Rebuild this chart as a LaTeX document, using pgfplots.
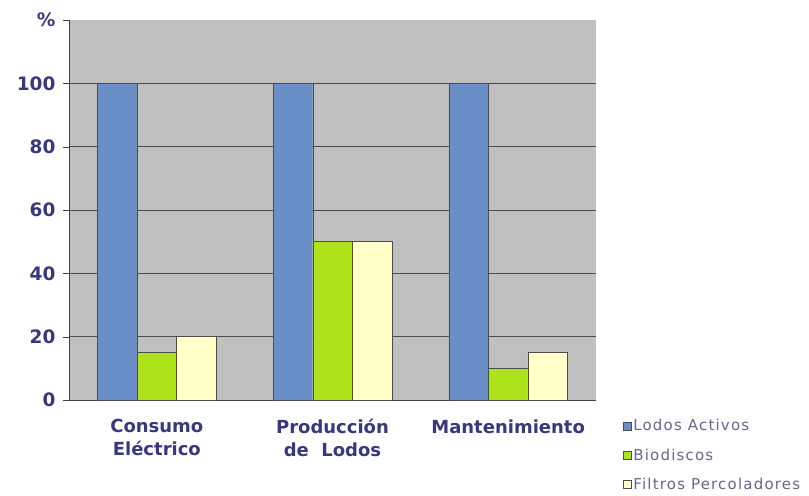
\documentclass[border=0pt]{standalone}
\usepackage{fontspec}
\setmainfont{DejaVu Sans}
\newfontfamily\legfont[LetterSpace=8]{DejaVu Sans}
\usepackage{pgfplots}
\pgfplotsset{compat=1.18}
\definecolor{cblue}{HTML}{6A8EC8}
\definecolor{cgreen}{HTML}{AEE31B}
\definecolor{cyellow}{HTML}{FFFFC8}
\definecolor{cbg}{HTML}{C0C0C0}
\definecolor{ctxt}{HTML}{38387E}
\definecolor{cleg}{HTML}{66668E}
\begin{document}
\begin{tikzpicture}
\begin{axis}[
  scale only axis,
  width=527pt, height=380pt,
  ybar=0pt, bar width=39.5pt,
  xmin=0.5, xmax=3.5, ymin=0, ymax=120,
  axis background/.style={fill=cbg},
  axis x line*=bottom, axis y line*=left,
  axis line style={black!75, -},
  xtick={1,2,3},
  xticklabels={{Consumo\\Eléctrico},{Producción\\de\ \ Lodos},{Mantenimiento}},
  x tick label style={align=center, font=\bfseries\fontsize{18}{23}\selectfont, text=ctxt, yshift=-10pt},
  xtick style={draw=none},
  extra x ticks={0.5,1.5,2.5,3.5},
  extra x tick labels={},
  extra x tick style={tick align=outside, major tick length=6pt, grid=none, tick style={draw=black!75}},
  ytick={0,20,40,60,80,100},
  yticklabels={0,20,40,60,80,100},
  extra y ticks={120}, extra y tick labels={\%},
  extra y tick style={grid=none},
  y tick label style={font=\bfseries\fontsize{18.5}{20}\selectfont, text=ctxt, xshift=-4pt},
  ytick style={draw=black!75},
  tick align=outside, major tick length=6pt,
  ymajorgrids, grid style={black!70, line width=0.6pt},
  /pgf/number format/assume math mode=true,
  legend style={at={(1.045,-0.04)}, anchor=north west, draw=none, fill=none,
    font=\legfont\fontsize{15}{17}\selectfont, text=cleg, row sep=12.5pt,
    legend cell align=left},
  legend image code/.code={\draw[#1, draw=black!70] (0pt,-4pt) rectangle (8pt,4pt);},
]
\addplot[fill=cblue, draw=black!70] coordinates {(1,100) (2,100) (3,100)};
\addplot[fill=cgreen, draw=black!70] coordinates {(1,15) (2,50) (3,10)};
\addplot[fill=cyellow, draw=black!70] coordinates {(1,20) (2,50) (3,15)};
\legend{Lodos Activos, Biodiscos, Filtros Percoladores}
\end{axis}
\path[use as bounding box] ([xshift=-69pt,yshift=-94pt]current axis.south west) rectangle ([xshift=740pt,yshift=400pt]current axis.south west);
\end{tikzpicture}
\end{document}
